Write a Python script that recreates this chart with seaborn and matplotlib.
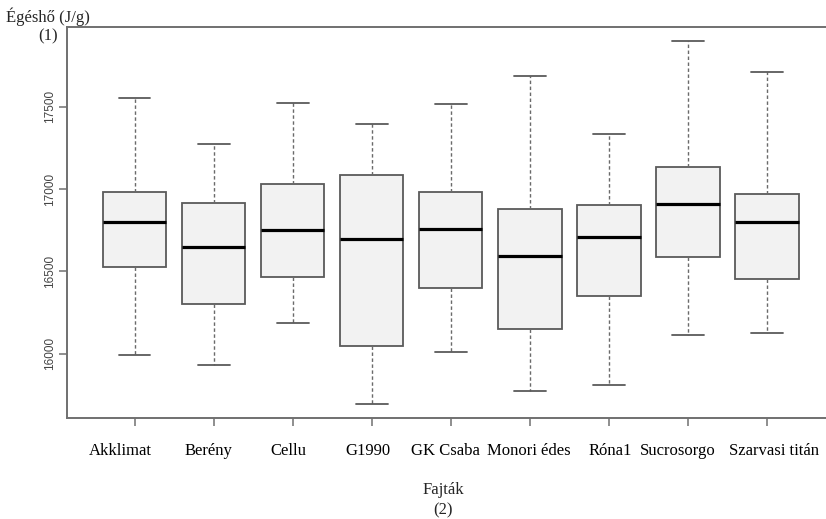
import matplotlib
matplotlib.use("Agg")
import matplotlib.pyplot as plt
import matplotlib.transforms as mtransforms
import seaborn as sns
import pandas as pd

categories = ["Akklimat", "Berény", "Cellu", "G1990", "GK Csaba",
              "Monori édes", "Róna1", "Sucrosorgo", "Szarvasi titán"]
whisker_low = [15990, 15929, 16185, 15695, 16010, 15770, 15808, 16114, 16126]
q1 = [16527, 16299, 16464, 16045, 16397, 16148, 16350, 16586, 16455]
median = [16802, 16645, 16751, 16696, 16759, 16594, 16710, 16910, 16802]
q3 = [16985, 16918, 17032, 17088, 16980, 16877, 16904, 17133, 16968]
whisker_high = [17551, 17274, 17522, 17398, 17520, 17685, 17333, 17900, 17713]
y_ticks = [16000, 16500, 17000, 17500]

rows = []
for i, c in enumerate(categories):
    for v in (whisker_low[i], q1[i], median[i], q3[i], whisker_high[i]):
        rows.append({"Fajták": c, "Égéshő": v})
df = pd.DataFrame(rows)

sns.set_style("white")
plt.rcParams["font.family"] = ["Liberation Serif", "DejaVu Serif"]

fig = plt.figure(figsize=(8.26, 5.19), dpi=100)
ax = fig.add_axes([66.7 / 826, (519 - 418.3) / 519, (835 - 66.7) / 826, (418.3 - 26.5) / 519])

edge = "#5a5a5a"
sns.boxplot(data=df, x="Fajták", y="Égéshő", order=categories, ax=ax,
            whis=(0, 100), width=0.8, color="#f2f2f2", linecolor=edge,
            linewidth=1.3, fliersize=0,
            boxprops=dict(facecolor="#f2f2f2", edgecolor=edge, linewidth=1.3),
            medianprops=dict(color="black", linewidth=2.3),
            whiskerprops=dict(color="#6a6a6a", linestyle=(0, (2.5, 1.8)), linewidth=1.0),
            capprops=dict(color=edge, linewidth=1.3))

lo, hi = min(whisker_low), max(whisker_high)
pad = (hi - lo) * 0.04
ax.set_ylim(lo - pad, hi + pad)
ax.set_xlim(-0.86, 8.86)
ax.set_xlabel("")
ax.set_ylabel("")

ax.set_yticks(y_ticks)
ax.set_yticklabels([str(t) for t in y_ticks], rotation=90, va="center",
                   family=["Liberation Sans", "DejaVu Sans"], fontsize=8.5, color="#444444")
ax.set_xticks(range(len(categories)))
ax.set_xticklabels(categories, fontsize=12, color="black")

ax.tick_params(axis="y", which="major", left=True, length=6, width=1.1, color="#707070", pad=2)
ax.tick_params(axis="x", which="major", bottom=True, length=6, width=1.1, color="#707070", pad=12)

# small horizontal shifts of the category labels (in pixels), as placed in the original
label_shift_px = [-14, -5, -4, -4, -5.5, -1, 1, -10, 6.5]
for lab, dx in zip(ax.get_xticklabels(), label_shift_px):
    lab.set_transform(lab.get_transform() +
                      mtransforms.ScaledTranslation(dx / 100, 0, fig.dpi_scale_trans))

for s in ["left", "bottom", "top", "right"]:
    ax.spines[s].set_visible(True)
    ax.spines[s].set_color("#707070")
    ax.spines[s].set_linewidth(1.4)

fig.text(6 / 826, 1 - 17 / 519, "Égéshő (J/g)", fontsize=12, ha="left", va="center")
fig.text(58 / 826, 1 - 36 / 519, "(1)", fontsize=12, ha="right", va="center")
fig.text(443 / 826, 1 - 490 / 519, "Fajták", fontsize=12, ha="center", va="center")
fig.text(443 / 826, 1 - 510 / 519, "(2)", fontsize=12, ha="center", va="center")

fig.savefig("out.png", dpi=100)
